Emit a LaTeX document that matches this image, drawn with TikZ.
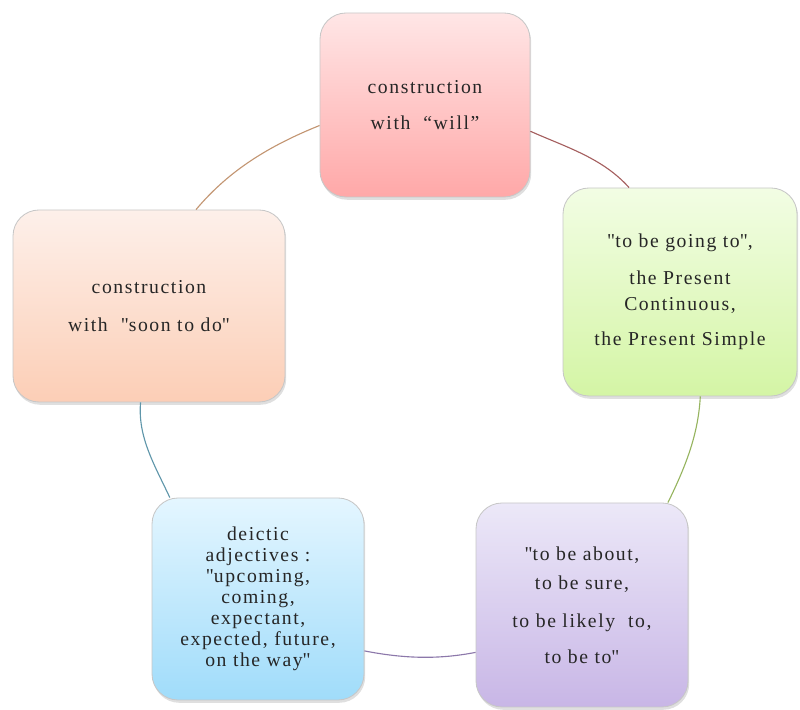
\documentclass[tikz,border=0pt]{standalone}
\usepackage{fontspec}
\setmainfont{Liberation Serif}[LetterSpace=8]
\usepackage{tikz}
\usetikzlibrary{shadows}

\newcommand{\qmark}{\textquotedbl}

\definecolor{redA}{RGB}{255,230,230}
\definecolor{redB}{RGB}{255,168,168}
\definecolor{greenA}{RGB}{242,253,228}
\definecolor{greenB}{RGB}{212,245,165}
\definecolor{peachA}{RGB}{253,240,234}
\definecolor{peachB}{RGB}{252,206,182}
\definecolor{blueA}{RGB}{228,246,255}
\definecolor{blueB}{RGB}{160,220,250}
\definecolor{lilacA}{RGB}{236,232,248}
\definecolor{lilacB}{RGB}{200,182,230}
\definecolor{linkPeach}{RGB}{195,150,115}
\definecolor{linkRed}{RGB}{165,95,95}
\definecolor{linkGreen}{RGB}{150,180,95}
\definecolor{linkLilac}{RGB}{140,120,170}
\definecolor{linkBlue}{RGB}{95,150,170}

\begin{document}
\begin{tikzpicture}[
  font=\fontsize{14}{15}\selectfont,
  card/.style 2 args={draw=black!22, line width=0.6pt, rounded corners=0.65cm, align=center,
    inner sep=2pt, minimum width=#1, minimum height=#2, text=black!85,
    drop shadow={opacity=0.25, shadow xshift=0.03cm, shadow yshift=-0.07cm}},
  link/.style={draw=#1, line width=0.8pt},
]
\useasboundingbox (0,0) rectangle (20,17.75);

\node[card={5.25cm}{4.6cm}, top color=redA, bottom color=redB] (top) at (10.625,15.125)
  {construction\\[11pt] with ~``will''};
\node[card={5.85cm}{5.2cm}, top color=greenA, bottom color=greenB] (rgt) at (17.0,10.45)
  {\qmark to be going to\qmark,\\[11pt] the Present\\[4pt] Continuous,\\[10pt] the Present Simple};
\node[card={6.8cm}{4.8cm}, top color=peachA, bottom color=peachB] (lft) at (3.725,10.1)
  {construction\\[12pt] with ~\qmark soon to do\qmark};
\node[card={5.3cm}{5.05cm}, top color=blueA, bottom color=blueB] (blu) at (6.45,2.775)
  {deictic\\ adjectives :\\ \qmark upcoming,\\ coming,\\ expectant,\\ expected, future,\\ on the way\qmark};
\node[card={5.3cm}{5.1cm}, top color=lilacA, bottom color=lilacB] (pur) at (14.55,2.625)
  {\qmark to be about,\\[6pt] to be sure,\\[12pt] to be likely ~to,\\[10pt] to be to\qmark};

% cycle connectors, following the ring
\foreach \a/\sa/\o/\b/\sb/\i/\c in {lft/64/50/top/191/202/linkPeach, top/346/-24/rgt/116/132/linkRed,
    rgt/281/267/pur/50/64/linkGreen, pur/204/191/blu/334/349/linkLilac, blu/131/115/lft/265/265/linkBlue}
  \draw[link=\c] (\a.\sa) to[out=\o, in=\i, looseness=0.9] (\b.\sb);
\end{tikzpicture}
\end{document}
